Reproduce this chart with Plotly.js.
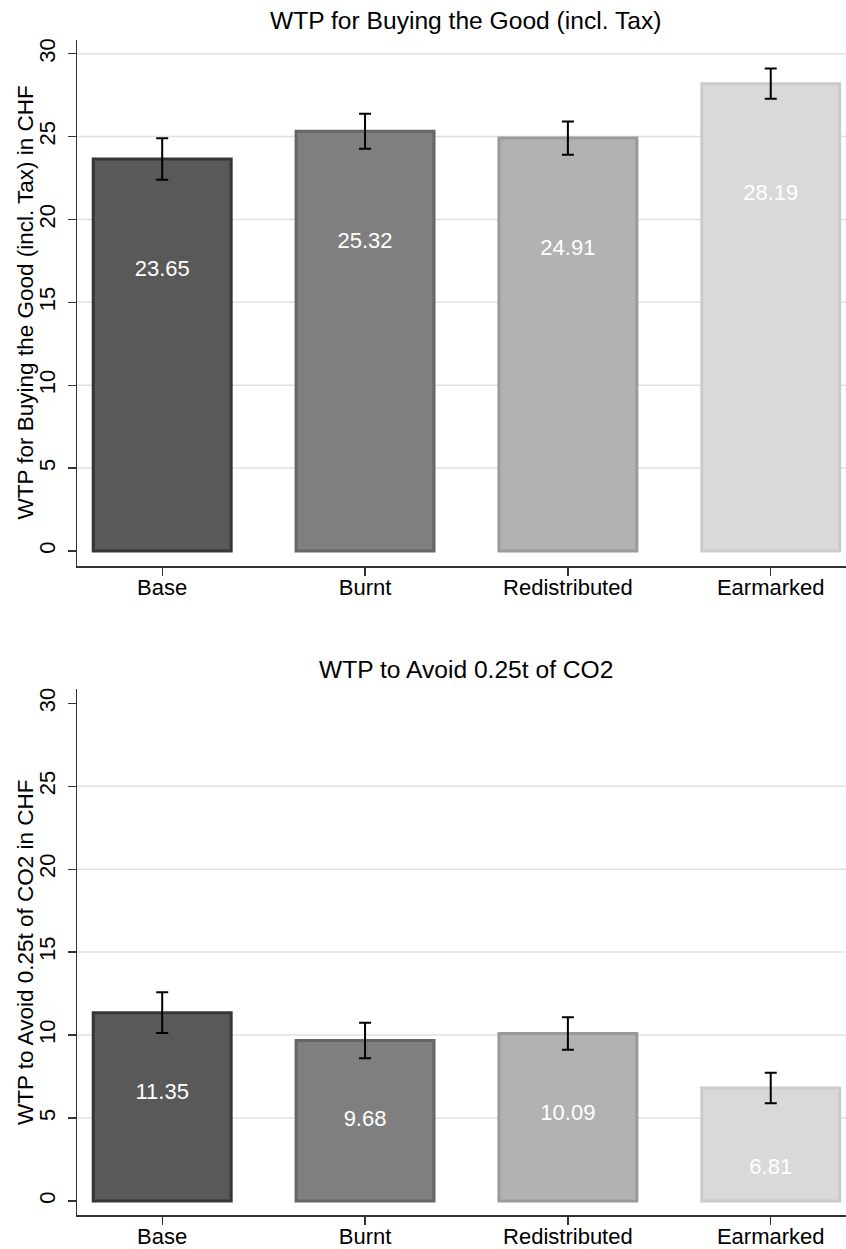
<!DOCTYPE html>
<html>
<head>
<meta charset="utf-8">
<script src="https://cdn.plot.ly/plotly-3.0.1.min.js"></script>
<style>html,body{margin:0;padding:0;background:#fff;}#chart{width:846px;height:1249px;}</style>
</head>
<body>
<div id="chart"></div>
<script>
const categories = ['Base', 'Burnt', 'Redistributed', 'Earmarked'];
const goodValues = [23.65, 25.32, 24.91, 28.19];
const goodErrors = [1.255, 1.055, 1.005, 0.915];
const avoidValues = [11.35, 9.68, 10.09, 6.81];
const avoidErrors = [1.23, 1.07, 0.98, 0.925];
const yTickVals = [0, 5, 10, 15, 20, 25, 30];
const gridTop = [5, 10, 15, 20, 25, 30];
const gridBottom = [5, 10, 15, 20, 25];
const topTitle = 'WTP for Buying the Good (incl. Tax)';
const topYTitle = 'WTP for Buying the Good (incl. Tax) in CHF';
const bottomTitle = 'WTP to Avoid 0.25t of CO2';
const bottomYTitle = 'WTP to Avoid 0.25t of CO2 in CHF';

const barFill = ['#595959', '#7f7f7f', '#b2b2b2', '#d9d9d9'];
const barEdge = ['#363636', '#666666', '#9a9a9a', '#cbcbcb'];
const FONT = 'Liberation Sans, Arial, Helvetica, sans-serif';
const W = 846, H = 1249;
const px = v => v / W;
const py = v => 1 - v / H;

function barTrace(vals, errs, xa, ya) {
  return {
    type: 'bar', x: categories, y: vals, xaxis: xa, yaxis: ya,
    width: 0.68,
    marker: {color: barFill, line: {color: barEdge, width: 3}},
    error_y: {type: 'data', array: errs, visible: true, color: '#000', thickness: 2, width: 6},
    showlegend: false, hoverinfo: 'skip'
  };
}
function labelTrace(vals, drop, xa, ya) {
  return {
    type: 'scatter', mode: 'text', x: categories,
    y: vals.map(v => v - drop), text: vals.map(v => v.toFixed(2)),
    textposition: 'middle center',
    textfont: {family: FONT, size: 22, color: '#ffffff'},
    xaxis: xa, yaxis: ya, showlegend: false, hoverinfo: 'skip'
  };
}

const data = [
  barTrace(goodValues, goodErrors, 'x', 'y'),
  labelTrace(goodValues, 6.7, 'x', 'y'),
  barTrace(avoidValues, avoidErrors, 'x2', 'y2'),
  labelTrace(avoidValues, 4.85, 'x2', 'y2')
];

function xAxis(anchor) {
  return {
    domain: [px(77), 1], anchor: anchor, type: 'category',
    range: [-0.42, 3.371], showgrid: false, zeroline: false,
    showline: true, linecolor: '#333', linewidth: 1.5,
    ticks: 'outside', ticklen: 8, tickwidth: 1.3, tickcolor: '#333',
    ticklabelstandoff: -7,
    tickfont: {family: FONT, size: 22, color: '#000'}, fixedrange: true
  };
}
function yAxis(anchor, dom, rng) {
  return {
    domain: dom, anchor: anchor, range: rng,
    tickvals: yTickVals, ticktext: yTickVals.map(String),
    tickangle: -90, showgrid: false, zeroline: false,
    showline: true, linecolor: '#333', linewidth: 1.5,
    ticks: 'outside', ticklen: 8, tickwidth: 1.3, tickcolor: '#333',
    ticklabelstandoff: 4,
    tickfont: {family: FONT, size: 22, color: '#000'}, fixedrange: true
  };
}

const shapes = [];
gridTop.forEach(v => shapes.push({type: 'line', xref: 'x domain', yref: 'y', x0: 0, x1: 1, y0: v, y1: v, layer: 'below', line: {color: '#e0e0e0', width: 1.5}}));
gridBottom.forEach(v => shapes.push({type: 'line', xref: 'x2 domain', yref: 'y2', x0: 0, x1: 1, y0: v, y1: v, layer: 'below', line: {color: '#e0e0e0', width: 1.5}}));

const annotations = [
  {text: topTitle, xref: 'paper', yref: 'paper', x: px(465.5), y: py(20), xanchor: 'center', yanchor: 'middle', showarrow: false, font: {family: FONT, size: 24.6, color: '#000'}},
  {text: bottomTitle, xref: 'paper', yref: 'paper', x: px(465.5), y: py(669), xanchor: 'center', yanchor: 'middle', showarrow: false, font: {family: FONT, size: 24.6, color: '#000'}},
  {text: topYTitle, xref: 'paper', yref: 'paper', x: px(25), y: py(302.5), xanchor: 'center', yanchor: 'middle', textangle: -90, showarrow: false, font: {family: FONT, size: 22.5, color: '#000'}},
  {text: bottomYTitle, xref: 'paper', yref: 'paper', x: px(25), y: py(952), xanchor: 'center', yanchor: 'middle', textangle: -90, showarrow: false, font: {family: FONT, size: 22.5, color: '#000'}}
];

const layout = {
  width: W, height: H,
  margin: {l: 0, r: 0, t: 0, b: 0, pad: 0},
  paper_bgcolor: '#ffffff', plot_bgcolor: '#ffffff',
  font: {family: FONT, color: '#000'},
  showlegend: false, hovermode: false, bargap: 0.3,
  xaxis: xAxis('y'),
  yaxis: yAxis('x', [py(566), py(40)], [-0.905, 30.826]),
  xaxis2: xAxis('y2'),
  yaxis2: yAxis('x2', [py(1215), py(689.3)], [-0.844, 30.84]),
  shapes: shapes,
  annotations: annotations
};

Plotly.newPlot('chart', data, layout, {staticPlot: true, displayModeBar: false});
</script>
</body>
</html>
